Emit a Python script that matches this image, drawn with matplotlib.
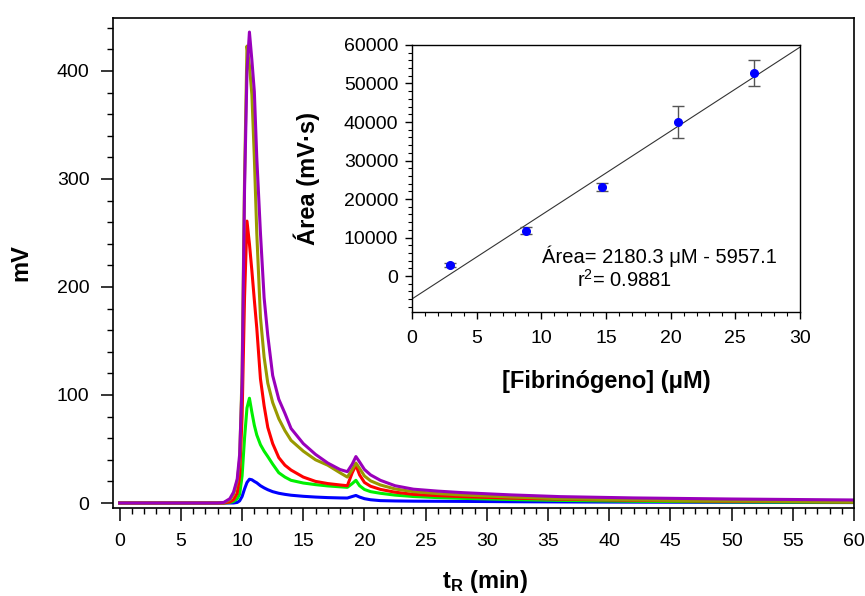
import matplotlib
matplotlib.use("Agg")
import matplotlib.pyplot as plt
from matplotlib.ticker import MultipleLocator

plt.rcParams['font.family'] = ['Liberation Sans', 'DejaVu Sans']
plt.rcParams['mathtext.fontset'] = 'custom'
plt.rcParams['mathtext.rm'] = 'Liberation Sans'
plt.rcParams['mathtext.bf'] = 'Liberation Sans:bold'
plt.rcParams['mathtext.it'] = 'Liberation Sans:italic'

# Chromatograms (mV vs retention time, min)
t = [0, 8.0, 8.5, 9.0, 9.3, 9.6, 9.8, 10.0, 10.2, 10.4, 10.6, 10.8, 11.0, 11.2,
     11.5, 11.8, 12.1, 12.5, 13.0, 13.5, 14.0, 15.0, 16.0, 17.0, 18.0, 18.6,
     19.0, 19.3, 19.6, 20.0, 20.5, 21.3, 22.5, 24.0, 26.0, 28.0, 32.0, 36.0,
     42.0, 50.0, 60.0]

blue = [0, 0, 0, 0, 0, 0.5, 2, 6, 13, 19, 22, 21.5, 20, 18.7,
        16, 14, 12.3, 10.5, 9, 8, 7.2, 6.2, 5.5, 5, 4.7, 4.6,
        6, 7, 5.5, 4, 3, 2.2, 1.9, 1.7, 1.6, 1.5, 1.2, 1.0,
        0.8, 0.6, 0.4]
green = [0, 0, 0, 0.5, 1.5, 4, 8, 25, 60, 88, 97, 84, 72, 63,
         54, 48, 43, 36, 28, 24, 21, 18.5, 17, 15.8, 15, 14.5,
         18, 21, 16, 12.5, 10.5, 9, 7.3, 6, 5, 4.3, 3.2, 2.4,
         1.6, 1.0, 0.6]
red = [0, 0, 0, 1, 3, 9, 25, 80, 190, 261, 240, 215, 188, 162,
       115, 90, 70, 55, 42, 35, 30.5, 24, 20, 18, 16.7, 16,
       28, 35, 26, 19, 15.5, 12.6, 10, 8, 6.8, 5.9, 4.5, 3.5,
       2.5, 1.6, 1.0]
olive = [0, 0, 0.3, 3, 8, 20, 40, 120, 300, 423, 405, 378, 320, 250,
         172, 135, 111, 93, 78, 67, 58, 48, 40, 35, 28, 24,
         31, 37, 32, 25, 20.5, 16.7, 13, 10.5, 8.7, 7.4, 5.5, 4,
         2.8, 1.8, 1.0]
purple = [0, 0, 0.5, 4, 10, 22, 45, 110, 290, 400, 436, 410, 381, 320,
          250, 190, 155, 118, 96, 83, 69, 55, 45, 37, 31, 29,
          36, 43, 38, 31, 26, 21, 16, 12.8, 11, 9.6, 7.5, 5.9,
          4.7, 3.7, 2.8]

# Calibration: peak area vs fibrinogen concentration
conc = [2.94, 8.82, 14.69, 20.6, 26.47]
area = [2860, 11700, 23120, 40000, 52800]
area_err = [450, 900, 1000, 4200, 3400]
slope, intercept = 2180.3, -5957.1
r2 = 0.9881

fig = plt.figure(figsize=(8.65, 5.96), dpi=100)
ax = fig.add_axes([0.1306, 0.1477, 0.8567, 0.8221])

ax.plot(t, blue, color="#0000ff", lw=2.2)
ax.plot(t, green, color="#00f000", lw=2.2)
ax.plot(t, red, color="#ff0000", lw=2.2)
ax.plot(t, olive, color="#999900", lw=2.2)
ax.plot(t, purple, color="#9900bb", lw=2.2)

ax.set_xlim(-0.55, 60)
ax.set_ylim(-4.6, 449)
ax.xaxis.set_major_locator(MultipleLocator(5))
ax.xaxis.set_minor_locator(MultipleLocator(1))
ax.yaxis.set_major_locator(MultipleLocator(100))
ax.yaxis.set_minor_locator(MultipleLocator(20))
ax.tick_params(which='major', length=9, width=1.1, labelsize=14, pad=8)
ax.tick_params(which='minor', length=4.5, width=1.0)
ax.tick_params(axis='x', which='major', pad=9)
for s in ax.spines.values():
    s.set_linewidth(1.2)

ax.set_xlabel(r'$\mathbf{t_R}$ (min)', fontsize=17, fontweight='bold')
ax.xaxis.set_label_coords(0.502, -0.122)
ax.set_ylabel('mV', fontsize=17, fontweight='bold')
ax.yaxis.set_label_coords(-0.109, 0.5)

# Inset with the calibration curve
ins = fig.add_axes([0.4763, 0.4765, 0.4486, 0.448])
xs = [0, 30]
ins.plot(xs, [slope * x + intercept for x in xs], color="#333333", lw=0.8)
ins.errorbar(conc, area, yerr=area_err, fmt='o', color="#0000ff", ms=5.5,
             ecolor="#555555", elinewidth=1, capsize=4, capthick=1)
ins.set_xlim(0, 30)
ins.set_ylim(-9350, 60000)
ins.xaxis.set_major_locator(MultipleLocator(5))
ins.xaxis.set_minor_locator(MultipleLocator(1))
ins.yaxis.set_major_locator(MultipleLocator(10000))
ins.yaxis.set_minor_locator(MultipleLocator(2000))
ins.tick_params(which='major', length=5, width=1, labelsize=14, pad=5)
ins.tick_params(which='minor', length=3, width=0.8)
ins.tick_params(axis='x', which='major', pad=8)
for s in ins.spines.values():
    s.set_linewidth(1.0)

ins.text(10.05, 3377, u'Área= %.1f \u03bcM - %.1f' % (slope, -intercept), fontsize=14.5)
ins.text(12.76, -2857, r'r$^2$= %.4f' % r2, fontsize=14.5)

ins.set_ylabel(u'Área (mV·s)', fontsize=17, fontweight='bold')
ins.yaxis.set_label_coords(-0.237, 0.5)
ins.set_xlabel(u'[Fibrinógeno] (\u03bcM)', fontsize=17, fontweight='bold')
ins.xaxis.set_label_coords(0.5, -0.217)

fig.savefig("out.png", dpi=100)
